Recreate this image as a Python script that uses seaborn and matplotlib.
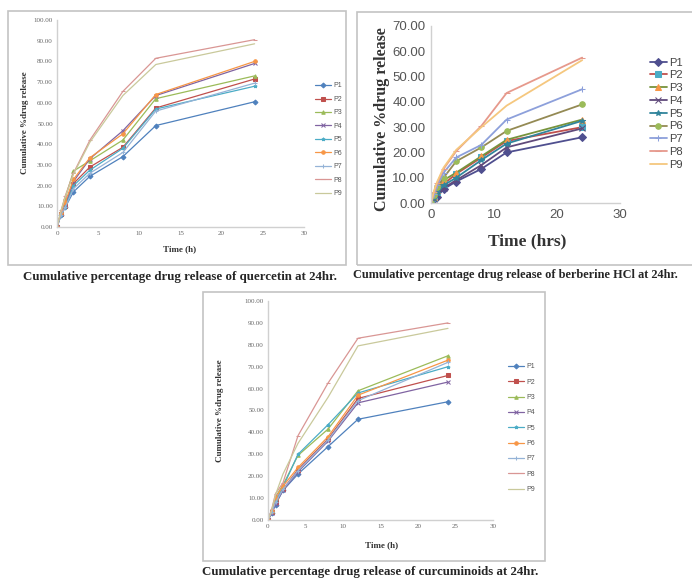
import matplotlib
matplotlib.use("Agg")
import matplotlib.pyplot as plt
import seaborn as sns
import pandas as pd
from matplotlib.patches import Rectangle

# sampling times (h)
time_h = [0, 0.5, 1, 2, 4, 8, 12, 24]
formulations = ['P1', 'P2', 'P3', 'P4', 'P5', 'P6', 'P7', 'P8', 'P9']

# cumulative % drug release
quercetin = {
    'P1': [0, 6, 9.5, 17, 24.5, 34, 49, 60.5],
    'P2': [0, 6.5, 10, 21, 29, 38.5, 57.5, 71.5],
    'P3': [0, 7.5, 14, 27, 32, 42, 62, 73],
    'P4': [0, 6.5, 11, 22, 33, 46.5, 63.5, 79],
    'P5': [0, 6, 9.5, 20, 27.5, 38, 57, 68],
    'P6': [0, 7, 12, 23, 33.5, 45, 64, 80],
    'P7': [0, 6, 9.5, 18.5, 26, 36, 56, 69.5],
    'P8': [0, 8, 15, 26, 42, 65.5, 81.5, 90.5],
    'P9': [0, 8, 14.5, 25.5, 41, 63.5, 78.5, 88.5],
}
berberine = {
    'P1': [0, 1.5, 2.5, 5.5, 8.5, 13.5, 20, 26],
    'P2': [0, 2, 4.5, 7.5, 11.5, 18, 24.5, 30],
    'P3': [0, 2.5, 5, 9, 12, 18.5, 25, 33],
    'P4': [0, 1.5, 3, 6, 9, 15, 22, 29.5],
    'P5': [0, 2, 4, 7, 10, 17, 23.5, 32.5],
    'P6': [0, 3, 6.5, 10, 16.5, 22, 28.5, 39],
    'P7': [0, 3.5, 7, 12, 18, 23, 33, 45],
    'P8': [0, 4.5, 8, 13.5, 20.5, 30.5, 43.5, 57.5],
    'P9': [0, 5, 8.5, 14, 21, 30, 38.5, 56.5],
}
curcuminoids = {
    'P1': [0, 3, 7, 13.5, 21, 33.5, 46, 54],
    'P2': [0, 3.5, 8, 14, 23, 37, 55.5, 66],
    'P3': [0, 4, 10.5, 16, 29.5, 41.5, 59, 75],
    'P4': [0, 3, 7.5, 13.5, 22, 36, 53.5, 63],
    'P5': [0, 4, 9, 15, 30, 43.5, 58, 70],
    'P6': [0, 4, 10, 15.5, 24, 38, 57, 73],
    'P7': [0, 3.5, 8, 14, 22.5, 36.5, 54.5, 72],
    'P8': [0, 5, 12, 17, 38.5, 62.5, 83, 90],
    'P9': [0, 4.5, 11.5, 21, 35, 56, 79.5, 87.5],
}

captions = [
    'Cumulative percentage drug release of quercetin at 24hr.',
    'Cumulative percentage drug release of berberine HCl at 24hr.',
    'Cumulative percentage drug release of curcuminoids at 24hr.',
]

excel_colors = ['#4F81BD', '#C0504D', '#9BBB59', '#8064A2', '#4BACC6',
                '#F79646', '#95B3D7', '#D99694', '#C9C99B']
markers = ['D', 's', '^', 'x', '*', 'o', '+', '_', '']
berb_line = ['#4f4f8f', '#c0504d', '#77933c', '#604a7b', '#31859c',
             '#948a54', '#8da0db', '#e6998c', '#f5c77e']
berb_face = ['#4f4f8f', '#4bacc6', '#f79646', '#604a7b', '#31859c',
             '#9bbb59', '#8da0db', '#e6998c', '#f5c77e']

sns.set_style("white")
plt.rcParams['font.family'] = ['Liberation Serif', 'DejaVu Serif']

W, H = 692, 579
fig = plt.figure(figsize=(W / 100, H / 100), dpi=100)


def px_axes(x0, y0, x1, y1):
    # axes from pixel box (top-left origin)
    return fig.add_axes([x0 / W, 1 - y1 / H, (x1 - x0) / W, (y1 - y0) / H])


def frame(x0, y0, x1, y1):
    fig.patches.append(Rectangle((x0 / W, 1 - y1 / H), (x1 - x0) / W, (y1 - y0) / H,
                                 transform=fig.transFigure, fill=False,
                                 edgecolor='#c3c3c3', linewidth=1.2))


def draw_panel(ax, data, line_colors, face_colors, lw, ms, ymax, ystep, xstep):
    for i, p in enumerate(formulations):
        df = pd.DataFrame({'time': time_h, 'release': data[p]})
        sns.lineplot(data=df, x='time', y='release', ax=ax, color=line_colors[i],
                     marker=markers[i] if markers[i] else None, markersize=ms,
                     markerfacecolor=face_colors[i], markeredgecolor=face_colors[i],
                     linewidth=lw, label=p, legend=False)
    ax.set_xlim(0, 30)
    ax.set_ylim(0, ymax)
    ax.set_xticks(range(0, 31, xstep))
    ax.set_yticks([v for v in range(0, ymax + 1, ystep)])
    ax.set_yticklabels([f'{v:.2f}' for v in range(0, ymax + 1, ystep)])
    for s in ['top', 'right']:
        ax.spines[s].set_visible(False)
    for s in ['left', 'bottom']:
        ax.spines[s].set_color('#d0d0d0')
        ax.spines[s].set_linewidth(1.0)
    ax.set_xlabel('')
    ax.set_ylabel('')
    ax.patch.set_alpha(0)


# --- panel 1: quercetin
frame(8, 11, 346, 265)
ax1 = px_axes(57, 20, 304, 227)
draw_panel(ax1, quercetin, excel_colors, excel_colors, 0.9, 2.5, 100, 10, 5)
ax1.tick_params(labelsize=5, colors='#666666', length=0, pad=3)
fig.text(180 / W, 1 - 249 / H, 'Time (h)', fontsize=6.5, fontweight='bold',
         ha='center', va='center', color='#333333')
fig.text(25 / W, 1 - 123 / H, 'Cumulative %drug release', fontsize=6.5,
         fontweight='bold', rotation=90, ha='center', va='center', color='#333333')
h, l = ax1.get_legend_handles_labels()
fig.legend(h, l, loc='upper left', bbox_to_anchor=(312 / W, 1 - 79 / H),
           frameon=False, handlelength=2.2, labelspacing=0.93,
           handletextpad=0.4, borderpad=0, labelcolor='#555555',
           prop={'family': 'Liberation Sans', 'size': 5})
fig.text(180 / W, 1 - 277 / H, captions[0], fontsize=9.3, fontweight='bold',
         ha='center', va='center')

# --- panel 2: berberine HCl
frame(357, 12, 700, 265)
ax2 = px_axes(431, 26, 620, 203)
draw_panel(ax2, berberine, berb_line, berb_face, 1.3, 4, 70, 10, 10)
ax2.tick_params(labelsize=9.5, colors='#555555', length=0, pad=4)
for t in ax2.get_xticklabels() + ax2.get_yticklabels():
    t.set_family('Liberation Sans')
fig.text(527 / W, 1 - 241 / H, 'Time (hrs)', fontsize=12.5, fontweight='bold',
         ha='center', va='center', color='#333333')
fig.text(382 / W, 1 - 119 / H, 'Cumulative %drug release', fontsize=11.5,
         fontweight='bold', rotation=90, ha='center', va='center', color='#333333')
h, l = ax2.get_legend_handles_labels()
fig.legend(h, l, loc='upper left', bbox_to_anchor=(644 / W, 1 - 52 / H),
           frameon=False, handlelength=1.6, labelspacing=0.25,
           handletextpad=0.2, borderpad=0, labelcolor='#444444',
           prop={'family': 'Liberation Sans', 'size': 8})
fig.text(353 / W, 1 - 275 / H, captions[1], fontsize=8.8, fontweight='bold',
         ha='left', va='center')

# --- panel 3: curcuminoids
frame(203, 292, 545, 561)
ax3 = px_axes(268, 301, 493, 520)
draw_panel(ax3, curcuminoids, excel_colors, excel_colors, 0.9, 2.5, 100, 10, 5)
ax3.tick_params(labelsize=5, colors='#666666', length=0, pad=3)
fig.text(382 / W, 1 - 545 / H, 'Time (h)', fontsize=6.5, fontweight='bold',
         ha='center', va='center', color='#333333')
fig.text(220 / W, 1 - 411 / H, 'Cumulative %drug release', fontsize=6.5,
         fontweight='bold', rotation=90, ha='center', va='center', color='#333333')
h, l = ax3.get_legend_handles_labels()
fig.legend(h, l, loc='upper left', bbox_to_anchor=(505 / W, 1 - 360 / H),
           frameon=False, handlelength=2.2, labelspacing=1.2,
           handletextpad=0.4, borderpad=0, labelcolor='#555555',
           prop={'family': 'Liberation Sans', 'size': 5})
fig.text(370 / W, 1 - 572 / H, captions[2], fontsize=9.3, fontweight='bold',
         ha='center', va='center')

fig.savefig('out.png', dpi=100)
